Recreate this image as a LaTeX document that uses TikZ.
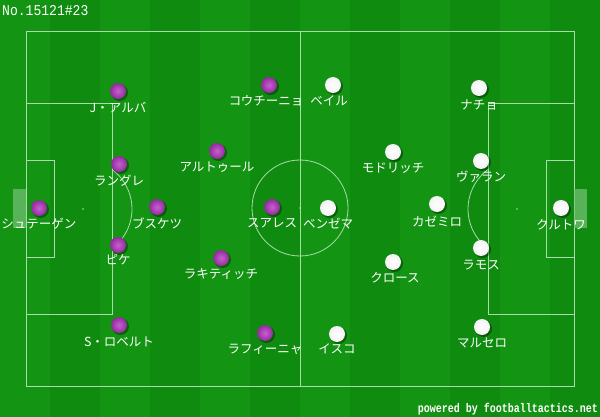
\documentclass[tikz,border=0pt]{standalone}
\usepackage{fontspec}
\newfontfamily\jp{Noto Sans CJK JP}
\newfontfamily\mono{Liberation Mono}[BoldFont={Liberation Mono Bold}]
\definecolor{grassA}{RGB}{19,148,19}
\definecolor{grassB}{RGB}{15,140,15}
\definecolor{lineC}{RGB}{170,220,170}
\definecolor{goalC}{RGB}{120,195,120}
\definecolor{pIn}{RGB}{200,95,210}
\definecolor{pOut}{RGB}{145,45,155}
\tikzset{
  pitchline/.style={draw=lineC, line width=0.8pt},
  purp/.style={circle, minimum size=16pt, inner sep=0pt, inner color=pIn, outer color=pOut},
  whit/.style={circle, minimum size=16pt, inner sep=0pt, inner color=white, outer color=white!90!gray},
  shad/.style={circle, minimum size=17pt, inner sep=0pt, fill=black, opacity=0.35},
  lbl/.style={text=white, font=\jp\fontsize{12.5}{12.5}\selectfont, inner sep=0pt},
}
\begin{document}
\begin{tikzpicture}[x=1pt,y=-1pt]
\useasboundingbox (0,0) rectangle (600,417);
% grass
\fill[grassA] (0,0) rectangle (600,417);
\foreach \i in {0,2,4,6,8,10} {
  \fill[grassB] ({50*\i+50},0) rectangle ({50*\i+100},417);
}
% pitch lines
\draw[pitchline] (26,31) rectangle (574,386);
\draw[pitchline] (300,31) -- (300,386);
\draw[pitchline] (300,208) circle[radius=48];
\fill[lineC] (300,208) circle[radius=0.9];
\draw[pitchline] (26,103) rectangle (112,314);
\draw[pitchline] (26,160) rectangle (54,257);
\draw[pitchline] (488,103) rectangle (574,314);
\draw[pitchline] (546,160) rectangle (574,257);
\draw[pitchline] (83,209) ++(-53.7:49) arc[start angle=-53.7, end angle=53.7, radius=49];
\draw[pitchline] (517,209) ++(126.3:49) arc[start angle=126.3, end angle=233.7, radius=49];
\fill[lineC] (83,209) circle[radius=0.9];
\fill[lineC] (517,209) circle[radius=0.9];
\fill[goalC, fill opacity=0.7] (13,189) rectangle (26,228);
\fill[goalC, fill opacity=0.7] (574,189) rectangle (587,228);
% header / footer
\node[text=white, anchor=west, inner sep=0pt] (hdr) at (2,11) {\scalebox{0.87}[1]{\mono\fontsize{15}{15}\selectfont No.15121\#23}};
\node[text=white, anchor=east, inner sep=0pt] (ftr) at (598,409) {\scalebox{0.8}[1]{\mono\bfseries\fontsize{12.5}{12.5}\selectfont powered by footballtactics.net}};
% players: shadows
\foreach \x/\y in {118/91,269/85,119/164,217/151,39/208,157/207,272/207,118/245,221/258,119/325,265/333,
                   333/85,479/88,393/152,481/161,328/208,437/204,561/208,393/262,481/248,337/334,482/327} {
  \node[shad] at (\x+1.5,\y+1.5) {};
}
% Barcelona (purple)
\node[purp] (alba) at (118,91) {};
\node[lbl] (albaL) at (118,108) {J・アルバ};
\node[purp] (cout) at (269,85) {};
\node[lbl] (coutL) at (266,101) {コウチーニョ};
\node[purp] (lang) at (119,164) {};
\node[lbl] (langL) at (119,181) {ラングレ};
\node[purp] (arth) at (217,151) {};
\node[lbl] (arthL) at (217,167) {アルトゥール};
\node[purp] (terst) at (39,208) {};
\node[lbl] (terstL) at (39,224) {シュテーゲン};
\node[purp] (busq) at (157,207) {};
\node[lbl] (busqL) at (157,223) {ブスケツ};
\node[purp] (suar) at (272,207) {};
\node[lbl] (suarL) at (272,223) {スアレス};
\node[purp] (piqu) at (118,245) {};
\node[lbl] (piquL) at (118,260) {ピケ};
\node[purp] (rak) at (221,258) {};
\node[lbl] (rakL) at (221,274) {ラキティッチ};
\node[purp] (sro) at (119,325) {};
\node[lbl] (sroL) at (119,342) {S・ロベルト};
\node[purp] (raf) at (265,333) {};
\node[lbl] (rafL) at (265,349) {ラフィーニャ};
% Real Madrid (white)
\node[whit] (bale) at (333,85) {};
\node[lbl] (baleL) at (329,101) {ベイル};
\node[whit] (nach) at (479,88) {};
\node[lbl] (nachL) at (479,105) {ナチョ};
\node[whit] (modr) at (393,152) {};
\node[lbl] (modrL) at (393,168) {モドリッチ};
\node[whit] (vara) at (481,161) {};
\node[lbl] (varaL) at (481,177) {ヴァラン};
\node[whit] (benz) at (328,208) {};
\node[lbl] (benzL) at (328,224) {ベンゼマ};
\node[whit] (case) at (437,204) {};
\node[lbl] (caseL) at (437,221) {カゼミロ};
\node[whit] (cour) at (561,208) {};
\node[lbl] (courL) at (561,225) {クルトワ};
\node[whit] (kroo) at (393,262) {};
\node[lbl] (krooL) at (395,278) {クロース};
\node[whit] (ramo) at (481,248) {};
\node[lbl] (ramoL) at (481,265) {ラモス};
\node[whit] (isco) at (337,334) {};
\node[lbl] (iscoL) at (337,349) {イスコ};
\node[whit] (marc) at (482,327) {};
\node[lbl] (marcL) at (482,343) {マルセロ};
\end{tikzpicture}
\end{document}
